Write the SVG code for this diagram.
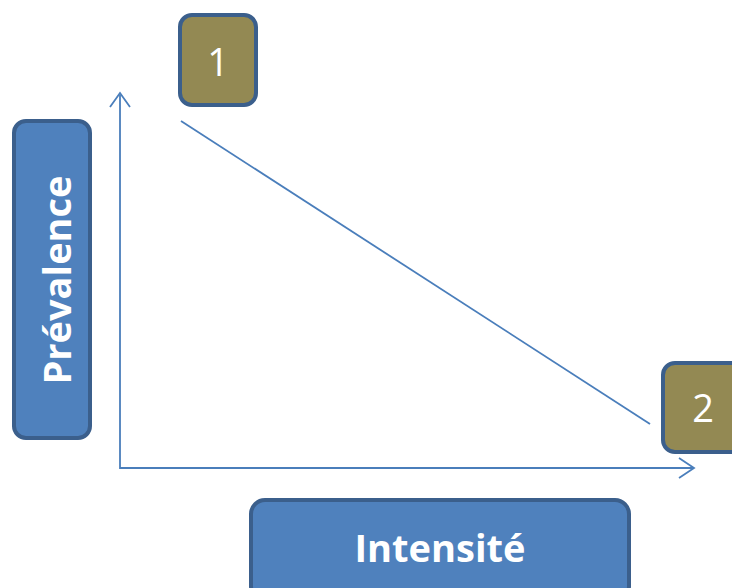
<svg xmlns="http://www.w3.org/2000/svg" width="732" height="588" viewBox="0 0 732 588">
<defs>
<style>
.blue{fill:#4f81bd;stroke:#3b5f8c;stroke-width:4}
.olive{fill:#938953;stroke:#3b5f8c;stroke-width:4}
.lbl{font-family:"Open Sans","Liberation Sans",sans-serif;font-weight:bold;fill:#fff;font-size:38px}
.num{font-family:"Open Sans","Liberation Sans",sans-serif;fill:#fff;font-size:38px}
.ln{stroke:#4a7ebb;stroke-width:1.8;fill:none}
</style>
</defs>
<rect width="732" height="588" fill="#fff"/>
<g id="connectors">
<polyline class="ln" points="120,95 120,468 693,468"/>
<polyline class="ln" points="110,107 120,93 130,107"/>
<polyline class="ln" points="679,458 694,468 679,478"/>
<line class="ln" x1="181" y1="121" x2="650" y2="424"/>
</g>
<g id="prevalence">
<rect class="blue" x="14" y="121" width="76" height="317" rx="12"/>
<text class="lbl" transform="translate(71,280) rotate(-90)" text-anchor="middle">Prévalence</text>
</g>
<g id="intensite">
<rect class="blue" x="251" y="500" width="378" height="100" rx="14"/>
<text class="lbl" x="440" y="562" text-anchor="middle">Intensité</text>
</g>
<g id="n1">
<rect class="olive" x="180" y="15" width="76" height="90" rx="12"/>
<text class="num" x="218" y="76" text-anchor="middle">1</text>
</g>
<g id="n2">
<rect class="olive" x="663" y="363" width="80" height="89" rx="12"/>
<text class="num" x="703" y="422" text-anchor="middle">2</text>
</g>
</svg>
